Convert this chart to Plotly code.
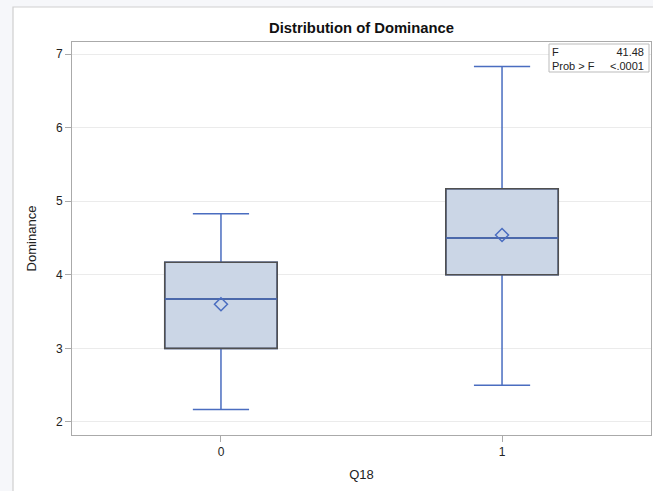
import plotly.graph_objects as go

categories = [0, 1]
q1 = [3.0, 4.0]
median = [3.67, 4.5]
q3 = [4.17, 5.17]
lower_whisker = [2.17, 2.5]
upper_whisker = [4.83, 6.83]
means = [3.6, 4.54]
stat_labels = ["F", "Prob > F"]
stat_values = ["41.48", "<.0001"]

BLUE = "#4A6DC0"
FILL = "#CBD6E6"
EDGE = "#505050"
FONT = "Liberation Sans, Arial, sans-serif"

fig = go.Figure()

# whiskers + filled box (blue lines)
fig.add_trace(go.Box(
    x=categories, q1=q1, median=median, q3=q3,
    lowerfence=lower_whisker, upperfence=upper_whisker,
    width=0.4, whiskerwidth=0.5,
    fillcolor=FILL, line=dict(color=BLUE, width=1.5),
    boxpoints=False, showlegend=False, hoverinfo="skip",
))
# dark box outline
fig.add_trace(go.Box(
    x=categories, q1=q1, median=median, q3=q3,
    lowerfence=q1, upperfence=q3,
    width=0.4, whiskerwidth=0,
    fillcolor="rgba(0,0,0,0)", line=dict(color=EDGE, width=1.6),
    boxpoints=False, showlegend=False, hoverinfo="skip",
))
# blue median line on top
fig.add_trace(go.Box(
    x=categories, q1=median, median=median, q3=median,
    lowerfence=median, upperfence=median,
    width=0.4, whiskerwidth=0,
    fillcolor="rgba(0,0,0,0)", line=dict(color=BLUE, width=1.5),
    boxpoints=False, showlegend=False, hoverinfo="skip",
))

fig.add_trace(go.Scatter(
    x=categories, y=means, mode="markers",
    marker=dict(symbol="diamond-open", size=10, color=BLUE, line=dict(width=1.5, color=BLUE)),
    showlegend=False, hoverinfo="skip",
))

L, R, T, B = 72, 2, 42, 56
W, H = 653, 491
pw, ph = W - L - R, H - T - B

def px(x):
    return (x - L) / pw

def py(y):
    return (H - B - y) / ph

shapes = [
    dict(type="rect", xref="paper", yref="paper", x0=px(13), x1=px(700), y0=py(7), y1=py(560),
         fillcolor="white", line=dict(color="#CFCFCF", width=1.2), layer="below"),
    dict(type="rect", xref="paper", yref="paper", x0=px(549), x1=px(649), y0=py(72), y1=py(44),
         fillcolor="white", line=dict(color="#BBBBBB", width=1), layer="above"),
]

annotations = [
    dict(xref="paper", yref="paper", x=px(551), y=py(59), xanchor="left", yanchor="middle",
         text="<br>".join(stat_labels), align="left", showarrow=False, borderpad=0,
         font=dict(family=FONT, size=11, color="#222222")),
    dict(xref="paper", yref="paper", x=px(645), y=py(59), xanchor="right", yanchor="middle",
         text="<br>".join(stat_values), align="right", showarrow=False, borderpad=0,
         font=dict(family=FONT, size=11, color="#222222")),
]

fig.update_layout(
    width=W, height=H,
    margin=dict(l=L, r=R, t=T, b=B),
    paper_bgcolor="#F6F7FA", plot_bgcolor="white",
    font=dict(family=FONT, size=12, color="#222222"),
    title=dict(text="<b>Distribution of Dominance</b>", x=0.5, xref="paper",
               y=1 - 27.5 / H, yref="container", yanchor="middle",
               font=dict(family=FONT, size=14.8, color="#111111")),
    shapes=shapes, annotations=annotations,
    showlegend=False, boxmode="overlay",
    xaxis=dict(range=[-0.53, 1.53], tickvals=categories, ticktext=[str(c) for c in categories],
               showgrid=False, zeroline=False, ticks="outside", ticklen=6, tickcolor="#AAAAAA",
               showline=True, linecolor="#AAAAAA", linewidth=1, mirror=True,
               tickfont=dict(size=12),
               title=dict(text="Q18", standoff=11, font=dict(size=13))),
    yaxis=dict(range=[1.823, 7.163], tickvals=[2, 3, 4, 5, 6, 7],
               showgrid=True, gridcolor="#EBEBEB", zeroline=False,
               ticks="outside", ticklen=6, tickcolor="#AAAAAA",
               showline=True, linecolor="#AAAAAA", linewidth=1, mirror=True,
               tickfont=dict(size=12),
               title=dict(text="Dominance", standoff=16, font=dict(size=13))),
)

fig.write_html("out.html")
